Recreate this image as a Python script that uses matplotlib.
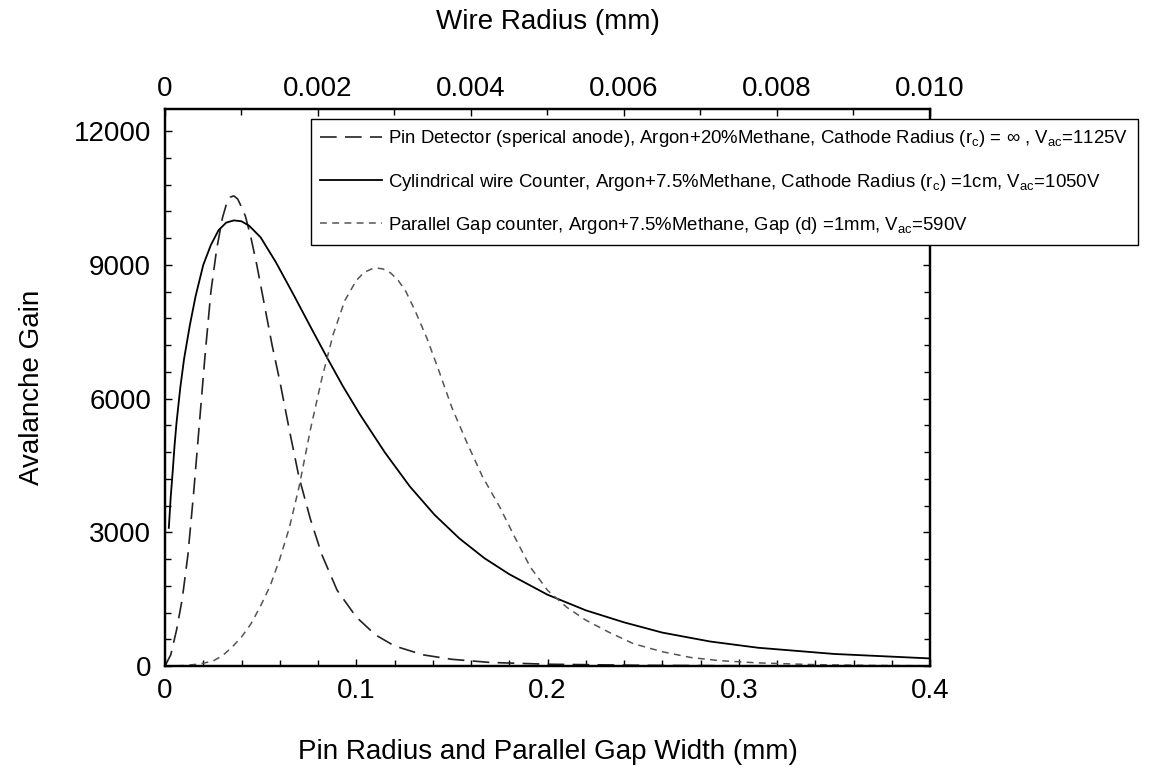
import matplotlib
matplotlib.use("Agg")
import matplotlib.pyplot as plt
from matplotlib.ticker import MultipleLocator, FixedLocator, FixedFormatter

plt.rcParams['font.family'] = ['Liberation Sans', 'DejaVu Sans']
plt.rcParams['mathtext.fontset'] = 'custom'
plt.rcParams['mathtext.rm'] = 'Liberation Sans'
plt.rcParams['mathtext.it'] = 'Liberation Sans'
plt.rcParams['mathtext.bf'] = 'Liberation Sans'

# ---- data ----
pin_x = [0, 0.003, 0.006, 0.009, 0.012, 0.015, 0.018, 0.021, 0.024, 0.027, 0.030,
         0.032, 0.034, 0.036, 0.038, 0.040, 0.042, 0.045, 0.048, 0.052, 0.056,
         0.060, 0.065, 0.070, 0.076, 0.082, 0.090, 0.100, 0.110, 0.120, 0.135,
         0.150, 0.170, 0.200, 0.250, 0.300, 0.400]
pin_y = [0, 250, 800, 1500, 2500, 3900, 5450, 7000, 8400, 9350, 10050,
         10350, 10520, 10550, 10480, 10300, 10100, 9600, 9000, 8100, 7200,
         6400, 5300, 4250, 3300, 2500, 1700, 1100, 700, 450, 250,
         150, 80, 40, 15, 5, 0]

cyl_x = [0.002, 0.003, 0.004, 0.005, 0.006, 0.008, 0.010, 0.013, 0.016, 0.020,
         0.024, 0.028, 0.032, 0.036, 0.040, 0.044, 0.050, 0.058, 0.067, 0.076,
         0.085, 0.093, 0.102, 0.115, 0.128, 0.141, 0.154, 0.167, 0.180, 0.200,
         0.220, 0.240, 0.260, 0.285, 0.310, 0.350, 0.400]
cyl_y = [3100, 3800, 4350, 4950, 5450, 6250, 6900, 7650, 8300, 9000,
         9450, 9780, 9950, 10000, 9980, 9880, 9620, 9060, 8350, 7620,
         6900, 6280, 5640, 4790, 4030, 3390, 2860, 2420, 2060, 1600,
         1250, 980, 750, 550, 410, 270, 170]

par_x = [0, 0.010, 0.018, 0.025, 0.030, 0.035, 0.040, 0.045, 0.050, 0.055,
         0.060, 0.065, 0.070, 0.076, 0.082, 0.088, 0.094, 0.100, 0.104, 0.108,
         0.111, 0.114, 0.118, 0.122, 0.126, 0.131, 0.137, 0.143, 0.150, 0.158,
         0.166, 0.175, 0.183, 0.191, 0.200, 0.210, 0.220, 0.232, 0.245, 0.260,
         0.275, 0.290, 0.310, 0.340, 0.370, 0.400]
par_y = [0, 10, 45, 110, 230, 420, 650, 950, 1350, 1800,
         2400, 3100, 4000, 5300, 6450, 7450, 8200, 8650, 8830, 8910,
         8930, 8910, 8820, 8650, 8400, 7950, 7350, 6650, 5800, 5000,
         4250, 3570, 2880, 2220, 1700, 1320, 1030, 760, 500, 320,
         190, 120, 70, 30, 12, 5]

labels = [
    r'Pin Detector (sperical anode), Argon+20%Methane, Cathode Radius (r$_\mathrm{c}$) = $\infty$ , V$_\mathrm{ac}$=1125V',
    r'Cylindrical wire Counter, Argon+7.5%Methane, Cathode Radius (r$_\mathrm{c}$) =1cm, V$_\mathrm{ac}$=1050V',
    r'Parallel Gap counter, Argon+7.5%Methane, Gap (d) =1mm, V$_\mathrm{ac}$=590V',
]

bottom_ticks = [0, 0.1, 0.2, 0.3, 0.4]
bottom_labels = ['0', '0.1', '0.2', '0.3', '0.4']
top_ticks = [0, 0.002, 0.004, 0.006, 0.008, 0.010]
top_labels = ['0', '0.002', '0.004', '0.006', '0.008', '0.010']
y_ticks = [0, 3000, 6000, 9000, 12000]
y_labels = ['0', '3000', '6000', '9000', '12000']

# ---- figure ----
W, H = 1168, 767
fig = plt.figure(figsize=(W / 100, H / 100), dpi=100)
L, R, T, B = 165, 930, 109, 666
ax = fig.add_axes([L / W, (H - B) / H, (R - L) / W, (B - T) / H])

l1, = ax.plot(pin_x, pin_y, color='#222222', lw=1.2, dashes=(10, 5))
l2, = ax.plot(cyl_x, cyl_y, color='black', lw=1.3)
l3, = ax.plot(par_x, par_y, color='#555555', lw=1.1, dashes=(4.5, 3.5))

FS = 20
ax.set_xlim(0, 0.4)
ax.set_ylim(0, 12500)
ax.xaxis.set_major_locator(FixedLocator(bottom_ticks))
ax.xaxis.set_major_formatter(FixedFormatter(bottom_labels))
ax.xaxis.set_minor_locator(MultipleLocator(0.02))
ax.yaxis.set_major_locator(FixedLocator(y_ticks))
ax.yaxis.set_major_formatter(FixedFormatter(y_labels))
ax.yaxis.set_minor_locator(MultipleLocator(600))
ax.tick_params(which='both', direction='in', left=True, right=True, bottom=True,
               top=False, labelsize=FS, width=1)
ax.tick_params(which='major', length=5)
ax.tick_params(which='minor', length=4)
ax.tick_params(axis='x', which='major', pad=9)
ax.tick_params(axis='y', which='major', pad=10)

for s in ax.spines.values():
    s.set_linewidth(1.6)

ax.set_xlabel('Pin Radius and Parallel Gap Width (mm)', fontsize=FS, labelpad=25)
ax.set_ylabel('Avalanche Gain', fontsize=FS, labelpad=21)

ax2 = ax.twiny()
ax2.set_xlim(0, 0.010)
ax2.xaxis.set_major_locator(FixedLocator(top_ticks))
ax2.xaxis.set_major_formatter(FixedFormatter(top_labels))
ax2.xaxis.set_minor_locator(MultipleLocator(0.001))
ax2.tick_params(which='both', direction='in', labelsize=FS, width=1)
ax2.tick_params(which='major', length=5, pad=5)
ax2.tick_params(which='minor', length=4)
ax2.set_xlabel('Wire Radius (mm)', fontsize=FS, labelpad=34)
for s in ax2.spines.values():
    s.set_linewidth(1.6)

leg = ax2.legend([l1, l2, l3], labels, loc='upper left',
                 bbox_to_anchor=(311 / W, 1 - 119 / H), bbox_transform=fig.transFigure,
                 fontsize=13.4, frameon=True, fancybox=False, framealpha=1,
                 edgecolor='black', handlelength=3.3, handletextpad=0.35,
                 labelspacing=1.2, borderpad=0.5, borderaxespad=0)
leg.get_frame().set_linewidth(1.0)

fig.savefig('out.png', dpi=100)
